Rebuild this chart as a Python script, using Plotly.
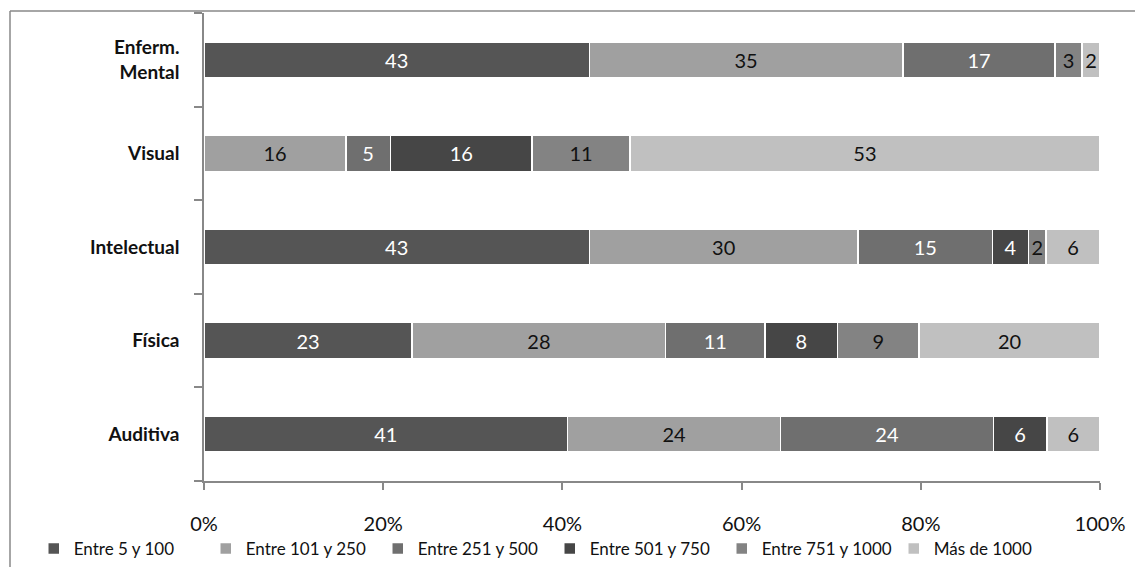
import plotly.graph_objects as go

categories = ["Auditiva", "Física", "Intelectual", "Visual", "Enferm.<br>Mental"]
series_names = ["Entre 5 y 100", "Entre 101 y 250", "Entre 251 y 500",
                "Entre 501 y 750", "Entre 751 y 1000", "Más de 1000"]
entre_5_100 = [41, 23, 43, 0, 43]
entre_101_250 = [24, 28, 30, 16, 35]
entre_251_500 = [24, 11, 15, 5, 17]
entre_501_750 = [6, 8, 4, 16, 0]
entre_751_1000 = [0, 9, 2, 11, 3]
mas_de_1000 = [6, 20, 6, 53, 2]
tick_values = [0, 20, 40, 60, 80, 100]

series_values = [entre_5_100, entre_101_250, entre_251_500,
                 entre_501_750, entre_751_1000, mas_de_1000]
colors = ["#555555", "#a0a0a0", "#6f6f6f", "#464646", "#838383", "#c0c0c0"]
text_colors = ["white", "#111111", "white", "white", "#111111", "#111111"]

FONT = "Lato, Liberation Sans, sans-serif"

fig = go.Figure()
for name, vals, col, tcol in zip(series_names, series_values, colors, text_colors):
    fig.add_trace(go.Bar(
        y=categories, x=vals, name=name, orientation="h",
        marker=dict(color=col, line=dict(color="white", width=1.5)),
        text=[str(v) if v else "" for v in vals],
        texttemplate="%{text}",
        textposition="inside", insidetextanchor="middle", textangle=0,
        constraintext="none",
        textfont=dict(color=tcol, size=20, family=FONT),
    ))

fig.update_layout(
    barmode="stack", barnorm="percent", bargap=0.615,
    width=1135, height=567,
    margin=dict(l=204, r=35, t=13, b=86, autoexpand=False),
    plot_bgcolor="white", paper_bgcolor="white",
    font=dict(family=FONT, color="#111111"),
    uniformtext=dict(minsize=20, mode="show"),
    showlegend=True,
    legend=dict(orientation="h", x=-0.19, xanchor="left",
                y=-(549 - 481) / 468, yanchor="middle",
                bgcolor="rgba(0,0,0,0)",
                font=dict(size=17, family=FONT), traceorder="normal",
                entrywidth=127, entrywidthmode="pixels", itemwidth=30),
    xaxis=dict(range=[0, 100], tickvals=tick_values,
               ticktext=[f"{v}%" for v in tick_values],
               showgrid=False, zeroline=False, automargin=False,
               showline=True, linecolor="#888888", linewidth=1.5,
               ticks="outside", ticklen=7, tickcolor="#888888", tickwidth=1.5,
               tickfont=dict(size=20, family=FONT), ticklabelstandoff=17),
    yaxis=dict(showgrid=False, zeroline=False, automargin=False,
               showline=True, linecolor="#888888", linewidth=1.5,
               ticks="outside", tickson="boundaries", ticklen=8,
               tickcolor="#888888", tickwidth=1.5,
               tickfont=dict(size=19, family=FONT, weight="bold"),
               ticklabelstandoff=19),
)

# outer chart border (left and top)
fig.add_shape(type="line", xref="paper", yref="paper",
              x0=(10 - 204) / 896, x1=(10 - 204) / 896, y0=1 + 2 / 468, y1=-0.3,
              line=dict(color="#888888", width=1.5))
fig.add_shape(type="line", xref="paper", yref="paper",
              x0=(10 - 204) / 896, x1=1.05, y0=1 + 2 / 468, y1=1 + 2 / 468,
              line=dict(color="#888888", width=1.5))

fig.write_html("out.html")
